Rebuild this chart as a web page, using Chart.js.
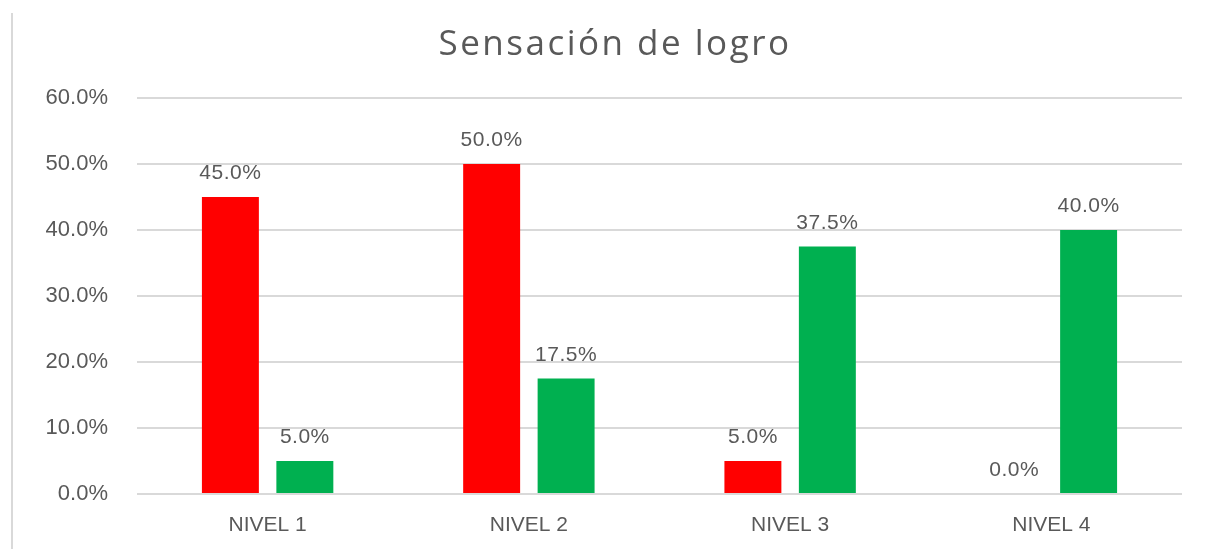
<!DOCTYPE html>
<html>
<head>
<meta charset="utf-8">
<script src="https://cdn.jsdelivr.net/npm/chart.js@4"></script>
<style>
  html, body { margin: 0; padding: 0; background: #fff; }
  #wrap { position: relative; width: 1205px; height: 549px; }
  #edge { position: absolute; left: 11px; top: 13px; width: 2px; height: 536px; background: #d9d9d9; }
  canvas { position: absolute; left: 0; top: 0; }
</style>
</head>
<body>
<div id="wrap">
  <canvas id="c" width="1205" height="549"></canvas>
  <div id="edge"></div>
</div>
<script>
const categories = ["NIVEL 1", "NIVEL 2", "NIVEL 3", "NIVEL 4"];
const seriesRed = [45.0, 50.0, 5.0, 0.0];
const seriesGreen = [5.0, 17.5, 37.5, 40.0];
const yTicks = [0, 10, 20, 30, 40, 50, 60];
const titleText = "Sensación de logro";

const FONT = "'Liberation Sans', Arial, sans-serif";
const TITLE_FONT = "'Open Sans', 'Liberation Sans', sans-serif";
const TXT = "#595959";

const dataLabels = {
  id: 'dataLabels',
  afterDatasetsDraw(chart) {
    const ctx = chart.ctx;
    ctx.save();
    ctx.font = "21px " + FONT;
    ctx.fillStyle = TXT;
    ctx.textAlign = "center";
    ctx.textBaseline = "alphabetic";
    if ('letterSpacing' in ctx) ctx.letterSpacing = "0.5px";
    chart.data.datasets.forEach((ds, i) => {
      const meta = chart.getDatasetMeta(i);
      meta.data.forEach((bar, j) => {
        ctx.fillText(ds.data[j].toFixed(1) + "%", bar.x, bar.y - 18);
      });
    });
    ctx.restore();
  }
};

const chartTitle = {
  id: 'chartTitle',
  afterDraw(chart) {
    const ctx = chart.ctx;
    ctx.save();
    ctx.font = "35px " + TITLE_FONT;
    ctx.fillStyle = TXT;
    ctx.textAlign = "center";
    ctx.textBaseline = "alphabetic";
    if ('letterSpacing' in ctx) ctx.letterSpacing = "2.5px";
    ctx.fillText(titleText, 615, 55);
    ctx.restore();
  }
};

new Chart(document.getElementById('c'), {
  type: 'bar',
  data: {
    labels: categories,
    datasets: [
      { data: seriesRed, backgroundColor: "#FF0000", categoryPercentage: 0.57, barPercentage: 0.765 },
      { data: seriesGreen, backgroundColor: "#00B050", categoryPercentage: 0.57, barPercentage: 0.765 }
    ]
  },
  options: {
    responsive: false,
    animation: false,
    layout: { padding: { left: 0, right: 23, top: 98, bottom: 0 } },
    plugins: {
      legend: { display: false },
      tooltip: { enabled: false },
      title: { display: false }
    },
    scales: {
      x: {
        grid: { display: false, drawTicks: false },
        border: { display: false },
        ticks: { color: TXT, font: { family: FONT, size: 21 }, padding: 19 },
        afterFit(s) { s.height = 55; }
      },
      y: {
        min: 0, max: 60,
        afterBuildTicks(s) { s.ticks = yTicks.map(v => ({ value: v })); },
        grid: { color: "#d9d9d9", lineWidth: 2, drawTicks: false },
        border: { display: false },
        ticks: {
          color: TXT, font: { family: FONT, size: 22 }, padding: 29,
          callback: v => v.toFixed(1) + "%"
        },
        afterFit(s) { s.width = 137; }
      }
    }
  },
  plugins: [dataLabels, chartTitle]
});
</script>
</body>
</html>
